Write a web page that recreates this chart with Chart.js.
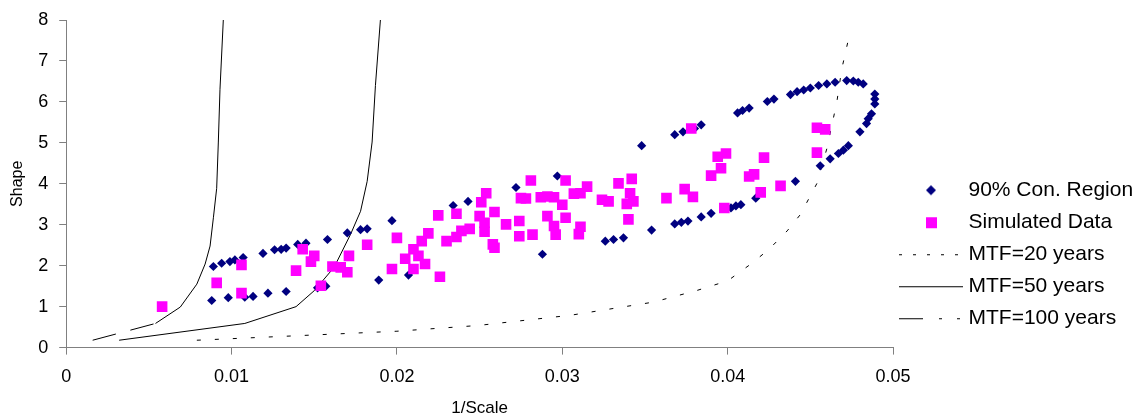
<!DOCTYPE html>
<html>
<head>
<meta charset="utf-8">
<script src="https://cdn.jsdelivr.net/npm/chart.js@4.4.0/dist/chart.umd.min.js"></script>
<style>
  html, body { margin: 0; padding: 0; background: #fff; }
  #wrap { width: 1141px; height: 419px; }
</style>
</head>
<body>
<div id="wrap"><canvas id="shapeChart"></canvas></div>
<script>
// [1/Scale, Shape] pairs
const regionPts = [
  [0.0089,1.98],[0.0094,2.06],[0.0099,2.10],[0.0102,2.14],[0.0107,2.20],[0.0119,2.30],
  [0.0126,2.39],[0.0130,2.40],[0.0133,2.43],[0.0140,2.52],[0.0145,2.55],[0.0158,2.64],
  [0.0170,2.80],[0.0178,2.88],[0.0182,2.90],[0.0197,3.10],[0.0234,3.47],[0.0243,3.57],
  [0.0272,3.91],[0.0297,4.19],[0.0348,4.93],[0.0368,5.20],[0.0373,5.27],[0.0380,5.35],
  [0.0384,5.44],[0.0406,5.73],[0.0409,5.79],[0.0413,5.85],[0.0424,6.01],[0.0428,6.07],
  [0.0438,6.18],[0.0442,6.25],[0.0446,6.29],[0.0450,6.34],[0.0455,6.40],[0.0460,6.44],
  [0.0465,6.48],[0.0472,6.52],[0.0476,6.51],[0.0479,6.48],[0.0482,6.44],[0.0489,6.19],
  [0.0489,6.07],[0.0489,5.95],[0.0487,5.71],[0.0485,5.59],[0.0484,5.47],[0.0480,5.27],
  [0.0473,4.93],[0.0470,4.82],[0.0467,4.74],[0.0462,4.61],[0.0456,4.44],[0.0441,4.06],
  [0.0417,3.65],[0.0408,3.49],[0.0405,3.46],[0.0402,3.41],[0.0390,3.28],[0.0384,3.19],
  [0.0376,3.09],[0.0372,3.06],[0.0368,3.02],[0.0354,2.87],[0.0337,2.68],[0.0331,2.64],
  [0.0326,2.60],[0.0288,2.28],[0.0207,1.77],[0.0189,1.65],[0.0157,1.50],[0.0152,1.46],
  [0.0133,1.37],[0.0122,1.33],[0.0113,1.25],[0.0108,1.23],[0.0098,1.22],[0.0088,1.15]
];
const simPts = [
  [0.0058,1.00],[0.0091,1.58],[0.0106,2.02],[0.0106,1.33],[0.0143,2.40],[0.0150,2.24],
  [0.0148,2.10],[0.0139,1.88],[0.0154,1.51],[0.0161,1.98],[0.0166,1.96],[0.0170,1.84],
  [0.0171,2.24],[0.0182,2.51],[0.0197,1.92],[0.0200,2.68],[0.0205,2.17],[0.0210,1.92],
  [0.0210,2.40],[0.0215,2.60],[0.0219,2.79],[0.0213,2.24],[0.0217,2.04],[0.0226,1.73],
  [0.0225,3.23],[0.0236,3.27],[0.0230,2.60],[0.0236,2.70],[0.0239,2.85],[0.0244,2.90],
  [0.0254,3.77],[0.0251,3.55],[0.0250,3.21],[0.0259,3.31],[0.0253,3.05],[0.0253,2.83],
  [0.0258,2.52],[0.0259,2.44],[0.0266,3.01],[0.0274,3.09],[0.0274,2.72],[0.0282,2.76],
  [0.0281,4.08],[0.0275,3.65],[0.0278,3.64],[0.0287,3.67],[0.0291,3.69],[0.0295,3.67],
  [0.0291,3.21],[0.0295,2.97],[0.0296,2.76],[0.0300,3.49],[0.0302,4.08],[0.0302,3.17],
  [0.0307,3.76],[0.0311,3.77],[0.0315,3.93],[0.0311,2.95],[0.0310,2.77],[0.0324,3.61],
  [0.0328,3.57],[0.0334,4.01],[0.0342,4.12],[0.0341,3.77],[0.0343,3.57],[0.0339,3.51],
  [0.0340,3.13],[0.0363,3.65],[0.0374,3.87],[0.0379,3.68],[0.0378,5.35],[0.0390,4.20],
  [0.0394,4.66],[0.0399,4.74],[0.0396,4.38],[0.0398,3.41],[0.0413,4.18],[0.0416,4.23],
  [0.0422,4.64],[0.0420,3.79],[0.0432,3.95],[0.0454,5.37],[0.0459,5.33],[0.0454,4.76]
];
const mtf20Pts = [
  [0.0079,0.18],[0.0200,0.40],[0.0249,0.54],[0.0305,0.79],[0.0355,1.11],[0.0381,1.39],
  [0.0400,1.63],[0.0414,2.04],[0.0425,2.40],[0.0436,2.85],[0.0444,3.25],[0.0454,4.01],
  [0.0460,4.86],[0.0466,5.99],[0.0469,6.80],[0.0474,7.70]
];
const mtf50Pts = [
  [0.0032,0.18],[0.0108,0.59],[0.0139,1.00],[0.0150,1.39],[0.0162,1.96],[0.0172,2.77],
  [0.0178,3.33],[0.0182,4.06],[0.0185,5.02],[0.0187,6.40],[0.0190,8.00]
];
const mtf100Pts = [
  [0.0016,0.18],[0.0054,0.59],[0.0069,0.99],[0.0079,1.55],[0.0084,2.04],[0.0087,2.48],
  [0.0089,3.17],[0.0091,3.89],[0.0092,5.02],[0.0093,6.31],[0.0095,8.00]
];
const seriesNames = ['90% Con. Region', 'Simulated Data', 'MTF=20 years', 'MTF=50 years', 'MTF=100 years'];
const xRange = [0, 0.05, 0.01];
const yRange = [0, 8, 1];

const FONT = 'Liberation Sans, Arial, sans-serif';

function toXY(pts) {
  return pts.map(p => ({x: p[0], y: p[1]}));
}

// little pictures for the legend keys
function legendIcon(kind) {
  const c = document.createElement('canvas');
  c.width = 64;
  c.height = 20;
  const g = c.getContext('2d');
  g.strokeStyle = '#000';
  g.lineWidth = 1;
  if (kind === 'diamond') {
    g.fillStyle = '#000080';
    g.beginPath();
    g.moveTo(32, 5); g.lineTo(37, 10); g.lineTo(32, 15); g.lineTo(27, 10);
    g.closePath();
    g.fill();
  } else if (kind === 'square') {
    g.fillStyle = '#FF00FF';
    g.fillRect(27, 5, 11, 11);
  } else {
    const dash = {d20: [3, 11], d50: [], d100: [24, 16, 3, 15, 3, 100]}[kind];
    g.setLineDash(dash);
    g.beginPath();
    g.moveTo(0, 10.5);
    g.lineTo(64, 10.5);
    g.stroke();
  }
  return c;
}
const iconKinds = ['diamond', 'square', 'd20', 'd50', 'd100'];

const ctx = document.getElementById('shapeChart').getContext('2d');
const chart = new Chart(ctx, {
  type: 'scatter',
  data: {
    datasets: [
      {
        label: seriesNames[0],
        data: toXY(regionPts),
        pointStyle: 'rectRot',
        pointRadius: 4.6,
        backgroundColor: '#000080',
        borderColor: '#000080',
        borderWidth: 0,
        order: 1
      },
      {
        label: seriesNames[1],
        data: toXY(simPts),
        pointStyle: 'rect',
        pointRadius: 7.5,
        backgroundColor: '#FF00FF',
        borderColor: '#FF00FF',
        borderWidth: 0,
        order: 0
      },
      {
        label: seriesNames[2],
        data: toXY(mtf20Pts),
        showLine: true,
        pointRadius: 0,
        borderColor: '#000',
        borderWidth: 1,
        borderDash: [4, 14],
        order: 2
      },
      {
        label: seriesNames[3],
        data: toXY(mtf50Pts),
        showLine: true,
        pointRadius: 0,
        borderColor: '#000',
        borderWidth: 1,
        order: 2
      },
      {
        label: seriesNames[4],
        data: toXY(mtf100Pts),
        showLine: true,
        pointRadius: 0,
        borderColor: '#000',
        borderWidth: 1,
        segment: {
          borderDash: c => c.p0DataIndex === 0 ? [24, 15] : undefined
        },
        order: 2
      }
    ]
  },
  options: {
    responsive: true,
    maintainAspectRatio: false,
    animation: false,
    layout: {
      padding: {left: 1, top: 2, right: 0, bottom: 0}
    },
    plugins: {
      tooltip: {enabled: false},
      legend: {
        position: 'right',
        maxWidth: 248,
        title: {display: true, text: '', padding: {top: 73, bottom: 0}},
        labels: {
          usePointStyle: true,
          pointStyleWidth: 54,
          padding: 11,
          color: '#000',
          font: {family: FONT, size: 21},
          generateLabels: function(chart) {
            return seriesNames.map((name, i) => ({
              text: name,
              pointStyle: legendIcon(iconKinds[i]),
              fillStyle: 'transparent',
              strokeStyle: 'transparent',
              fontColor: '#000',
              lineWidth: 0,
              hidden: false,
              datasetIndex: i
            }));
          }
        }
      }
    },
    scales: {
      x: {
        type: 'linear',
        min: xRange[0],
        max: xRange[1],
        border: {color: '#808080'},
        grid: {drawOnChartArea: false, tickLength: 7, color: '#808080'},
        ticks: {
          stepSize: xRange[2],
          padding: 13,
          color: '#000',
          font: {family: FONT, size: 18, lineHeight: 1},
          callback: v => String(Number(v.toFixed(2)))
        },
        title: {
          display: true,
          text: '1/Scale',
          color: '#000',
          font: {family: FONT, size: 17},
          padding: {top: 0, bottom: 0}
        }
      },
      y: {
        min: yRange[0],
        max: yRange[1],
        border: {color: '#808080'},
        grid: {drawOnChartArea: false, tickLength: 7, color: '#808080'},
        ticks: {
          stepSize: yRange[2],
          padding: 11,
          color: '#000',
          font: {family: FONT, size: 18, lineHeight: 1}
        },
        title: {
          display: true,
          text: 'Shape',
          color: '#000',
          font: {family: FONT, size: 16},
          padding: {top: 7, bottom: 0}
        }
      }
    }
  }
});
</script>
</body>
</html>
